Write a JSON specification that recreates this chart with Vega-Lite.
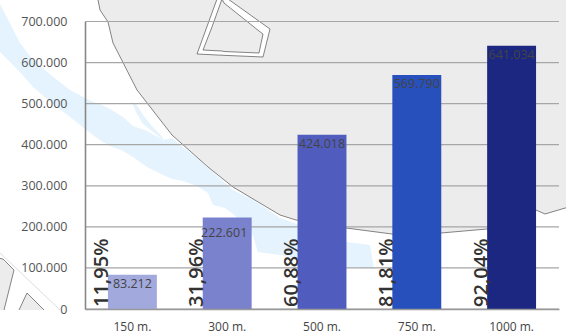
{
"$schema":"https://vega.github.io/schema/vega-lite/v6.json",
"width":474,"height":287.5,
"autosize":"none",
"padding":{"left":85,"top":21.5,"right":7,"bottom":25},
"background":"#ffffff",
"config":{"view":{"stroke":null},"font":"Open Sans"},
"datasets":{
"bars":[
{"dist":"150 m.","value":83212,"label":"83.212","pct":"11,95%"},
{"dist":"300 m.","value":222601,"label":"222.601","pct":"31,96%"},
{"dist":"500 m.","value":424018,"label":"424.018","pct":"60,88%"},
{"dist":"750 m.","value":569790,"label":"569.790","pct":"81,81%"},
{"dist":"1000 m.","value":641034,"label":"641.034","pct":"92,04%"}],
"ticks":[{"v":0},{"v":100000},{"v":200000},{"v":300000},{"v":400000},{"v":500000},{"v":600000},{"v":700000}],
"shore":[{"x":97,"y":-6,"t":-6},{"x":98,"y":0,"t":-6},{"x":100,"y":10,"t":-6},{"x":108,"y":22,"t":-6},{"x":113,"y":43,"t":-6},{"x":137,"y":90,"t":-6},{"x":172,"y":135,"t":-6},{"x":208,"y":167,"t":-6},{"x":233,"y":187,"t":-6},{"x":280,"y":215,"t":-6},{"x":296,"y":220,"t":-6},{"x":346,"y":228,"t":-6},{"x":392,"y":234,"t":-6},{"x":441,"y":233,"t":-6},{"x":487,"y":229,"t":-6},{"x":536,"y":210,"t":-6},{"x":545,"y":214,"t":-6},{"x":572,"y":206,"t":-6}],
"river":[{"x":-2,"u":0,"l":50},{"x":20,"u":43,"l":72},{"x":33,"u":60,"l":87},{"x":57,"u":80,"l":107},{"x":70,"u":90,"l":117},{"x":93,"u":102,"l":135},{"x":100,"u":104,"l":140},{"x":110,"u":109,"l":146},{"x":123,"u":117,"l":151},{"x":133,"u":126,"l":157},{"x":147,"u":131,"l":167},{"x":163,"u":140,"l":175},{"x":172,"u":138,"l":179},{"x":183,"u":147,"l":181},{"x":197,"u":158,"l":186},{"x":208,"u":168,"l":193},{"x":213,"u":172,"l":205},{"x":225,"u":183,"l":208},{"x":233,"u":190,"l":214},{"x":251,"u":199,"l":230},{"x":258,"u":203,"l":252},{"x":280,"u":218,"l":255},{"x":297,"u":224,"l":258},{"x":346,"u":242,"l":267},{"x":370,"u":245,"l":268},{"x":374,"u":269,"l":269}],
"wedge":[{"x":132,"u":102,"l":102},{"x":136,"u":104,"l":112},{"x":143,"u":115,"l":124},{"x":152,"u":126,"l":131},{"x":163,"u":138,"l":140}],
"house":[{"x":197,"u":54,"l":54},{"x":217,"u":-1,"l":55},{"x":228,"u":-1,"l":55.5},{"x":263,"u":24,"l":57},{"x":270,"u":29,"l":29}],
"houseIn":[{"x":203,"u":50,"l":50},{"x":212,"u":27,"l":50.5},{"x":222,"u":-1,"l":51},{"x":224,"u":3,"l":51.5},{"x":259,"u":31,"l":53},{"x":263,"u":34,"l":34}],
"poly":[{"g":"a","x":-2,"u":258,"l":310},{"g":"a","x":3,"u":259,"l":310},{"g":"a","x":4,"u":261,"l":310},{"g":"a","x":14,"u":270,"l":270},{"g":"b","x":19,"u":310,"l":310},{"g":"b","x":27,"u":293,"l":310},{"g":"b","x":44,"u":310,"l":310}],
"polyLine":[{"g":"a","i":0,"x":-2,"y":258},{"g":"a","i":1,"x":3,"y":259},{"g":"a","i":2,"x":14,"y":270},{"g":"a","i":3,"x":4,"y":310},{"g":"b","i":0,"x":19,"y":310},{"g":"b","i":1,"x":27,"y":293},{"g":"b","i":2,"x":44,"y":310},{"g":"c","i":0,"x":-2,"y":251},{"g":"c","i":1,"x":60,"y":310}]
},
"resolve":{"scale":{"x":"independent","y":"independent","color":"independent"},"axis":{"x":"independent","y":"independent"}},
"layer":[
{"data":{"name":"river"},"mark":{"type":"area","color":"#e4f3fd","orient":"vertical"},
 "encoding":{"x":{"field":"x","type":"quantitative","scale":{"domain":[85,559],"nice":false,"zero":false},"axis":null},"y":{"field":"u","type":"quantitative","scale":{"domain":[309,21.5],"nice":false,"zero":false},"axis":null},"y2":{"field":"l"}}},
{"data":{"name":"wedge"},"mark":{"type":"area","color":"#e4f3fd","orient":"vertical"},
 "encoding":{"x":{"field":"x","type":"quantitative","scale":{"domain":[85,559],"nice":false,"zero":false},"axis":null},"y":{"field":"u","type":"quantitative","scale":{"domain":[309,21.5],"nice":false,"zero":false},"axis":null},"y2":{"field":"l"}}},
{"data":{"name":"shore"},"mark":{"type":"area","color":"#ececec","stroke":"#666666","strokeWidth":0.8,"orient":"vertical"},
 "encoding":{"x":{"field":"x","type":"quantitative","scale":{"domain":[85,559],"nice":false,"zero":false},"axis":null},"y":{"field":"y","type":"quantitative","scale":{"domain":[309,21.5],"nice":false,"zero":false},"axis":null},"y2":{"field":"t"}}},
{"data":{"name":"house"},"mark":{"type":"area","color":"#ffffff","stroke":"#666666","strokeWidth":0.8,"orient":"vertical"},
 "encoding":{"x":{"field":"x","type":"quantitative","scale":{"domain":[85,559],"nice":false,"zero":false},"axis":null},"y":{"field":"u","type":"quantitative","scale":{"domain":[309,21.5],"nice":false,"zero":false},"axis":null},"y2":{"field":"l"}}},
{"data":{"name":"houseIn"},"mark":{"type":"area","color":"#ececec","stroke":"#666666","strokeWidth":0.8,"orient":"vertical"},
 "encoding":{"x":{"field":"x","type":"quantitative","scale":{"domain":[85,559],"nice":false,"zero":false},"axis":null},"y":{"field":"u","type":"quantitative","scale":{"domain":[309,21.5],"nice":false,"zero":false},"axis":null},"y2":{"field":"l"}}},
{"data":{"name":"poly"},"mark":{"type":"area","color":"#ececec","orient":"vertical"},
 "encoding":{"detail":{"field":"g"},"x":{"field":"x","type":"quantitative","scale":{"domain":[85,559],"nice":false,"zero":false},"axis":null},"y":{"field":"u","type":"quantitative","scale":{"domain":[309,21.5],"nice":false,"zero":false},"axis":null},"y2":{"field":"l"}}},
{"data":{"name":"polyLine"},"mark":{"type":"line","strokeWidth":0.8},
 "encoding":{"order":{"field":"i"},"detail":{"field":"g"},"x":{"field":"x","type":"quantitative","scale":{"domain":[85,559],"nice":false,"zero":false},"axis":null},"y":{"field":"y","type":"quantitative","scale":{"domain":[309,21.5],"nice":false,"zero":false},"axis":null},
 "color":{"field":"g","type":"nominal","legend":null,"scale":{"domain":["a","b","c"],"range":["#666666","#666666","#d4d4d4"]}}}},
{"data":{"name":"ticks"},"mark":{"type":"rule","color":"#a6a6a6","strokeWidth":1.2},
 "encoding":{"y":{"field":"v","type":"quantitative","scale":{"domain":[0,700000],"nice":false},"axis":null}}},
{"data":{"name":"bars"},"mark":{"type":"bar"},
 "encoding":{
 "x":{"field":"dist","type":"nominal","sort":null,"scale":{"domain":["150 m.","300 m.","500 m.","750 m.","1000 m."],"paddingInner":0.484,"paddingOuter":0.242},
  "axis":{"title":null,"labelAngle":0,"labelFontSize":12,"labelColor":"#444444","labelFont":"Open Sans","labelPadding":12,"tickSize":0,"domainColor":"#999999","domainWidth":1.6,"zindex":1}},
 "y":{"field":"value","type":"quantitative","scale":{"domain":[0,700000],"nice":false},
  "axis":{"title":null,"grid":false,"values":[0,100000,200000,300000,400000,500000,600000,700000],"labelExpr":"replace(format(datum.value,','),/,/g,'.')","labelFontSize":12.5,"labelColor":"#555555","labelFont":"Open Sans","labelPadding":18,"tickSize":0,"domainColor":"#888888","domainWidth":1.6,"zindex":1}},
 "color":{"field":"dist","type":"nominal","legend":null,"scale":{"domain":["150 m.","300 m.","500 m.","750 m.","1000 m."],"range":["#a2a9dc","#7a81cd","#515cbf","#2750bd","#1b2781"]}}}},
{"data":{"name":"bars"},"transform":[{"filter":"datum.dist!='300 m.'"}],"mark":{"type":"text","fontSize":12.5,"color":"#444444","baseline":"middle","dy":9},
 "encoding":{
 "x":{"field":"dist","type":"nominal","sort":null,"scale":{"domain":["150 m.","300 m.","500 m.","750 m.","1000 m."],"paddingInner":0.484,"paddingOuter":0.242},"axis":null},
 "y":{"field":"value","type":"quantitative","scale":{"domain":[0,700000],"nice":false},"axis":null},
 "text":{"field":"label"}}},
{"data":{"name":"bars"},"transform":[{"filter":"datum.dist=='300 m.'"}],"mark":{"type":"text","fontSize":12.5,"color":"#444444","baseline":"middle","dy":15,"dx":-3},
 "encoding":{
 "x":{"field":"dist","type":"nominal","sort":null,"scale":{"domain":["150 m.","300 m.","500 m.","750 m.","1000 m."],"paddingInner":0.484,"paddingOuter":0.242},"axis":null},
 "y":{"field":"value","type":"quantitative","scale":{"domain":[0,700000],"nice":false},"axis":null},
 "text":{"field":"label"}}},
{"data":{"name":"bars"},"mark":{"type":"text","fontSize":20,"fontWeight":600,"color":"#333333","angle":270,"align":"left","baseline":"alphabetic","dx":2,"dy":-24},
 "encoding":{
 "x":{"field":"dist","type":"nominal","sort":null,"scale":{"domain":["150 m.","300 m.","500 m.","750 m.","1000 m."],"paddingInner":0.484,"paddingOuter":0.242},"axis":null},
 "y":{"datum":0,"type":"quantitative","scale":{"domain":[0,700000],"nice":false},"axis":null},
 "text":{"field":"pct"}}}
]
}
